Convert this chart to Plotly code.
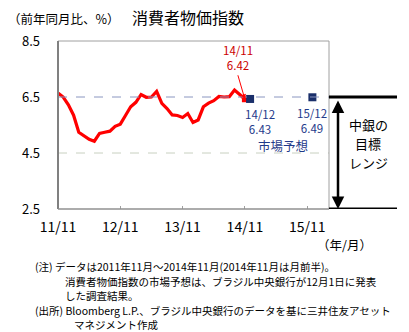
import plotly.graph_objects as go

# Data: Brazil CPI (IPCA), y/y %, 2011/11 - 2014/11
months = ["11/11","11/12","12/01","12/02","12/03","12/04","12/05","12/06","12/07","12/08","12/09","12/10","12/11","12/12",
          "13/01","13/02","13/03","13/04","13/05","13/06","13/07","13/08","13/09","13/10","13/11","13/12",
          "14/01","14/02","14/03","14/04","14/05","14/06","14/07","14/08","14/09","14/10","14/11"]
cpi = [6.64, 6.50, 6.22, 5.85, 5.24, 5.10, 4.99, 4.92, 5.20, 5.24, 5.28, 5.45, 5.53, 5.84,
       6.15, 6.31, 6.59, 6.49, 6.50, 6.70, 6.27, 6.09, 5.86, 5.84, 5.77, 5.91,
       5.59, 5.68, 6.15, 6.28, 6.37, 6.52, 6.50, 6.51, 6.75, 6.59, 6.42]
fc_labels = ["14/12", "15/12"]
fc_idx = [37, 49]
fc_values = [6.43, 6.49]
xtick_vals = [0, 12, 24, 36, 48]
xtick_text = ["11/11", "12/11", "13/11", "14/11", "15/11"]
ytick_vals = [2.5, 4.5, 6.5, 8.5]
target_low, target_high = 2.5, 6.5

W, H = 409, 332
L, R, T, B = 58, 329, 41, 209
def px(x): return (x - L) / (R - L)
def py(y): return (B - y) / (B - T)

FONT = "Noto Sans CJK JP"
NAVY = "#1f3a8a"

x_idx = list(range(len(cpi)))
fig = go.Figure()
fig.add_trace(go.Scatter(x=x_idx, y=cpi, mode="lines", line=dict(color="#ff0000", width=3.2),
                         hoverinfo="skip", showlegend=False))
fig.add_trace(go.Scatter(x=[x_idx[-1]], y=[cpi[-1]], mode="markers",
                         marker=dict(color="#ff0000", size=6, symbol="square"), showlegend=False))
fig.add_trace(go.Scatter(x=fc_idx, y=fc_values, mode="markers",
                         marker=dict(color="#1a2f6a", size=8, symbol="square"), showlegend=False))

shapes = [
    dict(type="line", xref="paper", yref="y", x0=0, x1=1, y0=6.5, y1=6.5,
         line=dict(color="#8a96c0", width=1, dash="dash")),
    dict(type="line", xref="paper", yref="y", x0=0, x1=1, y0=4.5, y1=4.5,
         line=dict(color="#c8d0c0", width=1, dash="dash")),
    dict(type="line", xref="paper", yref="paper", x0=0, x1=1, y0=1, y1=1, line=dict(color="#a0a0a0", width=1)),
    dict(type="line", xref="paper", yref="paper", x0=1, x1=1, y0=0, y1=1, line=dict(color="#a0a0a0", width=1)),
    dict(type="line", xref="paper", yref="paper", x0=0, x1=0, y0=0, y1=1, line=dict(color="#808080", width=2)),
    dict(type="line", xref="paper", yref="paper", x0=0, x1=1, y0=0, y1=0, line=dict(color="#909090", width=1.5)),
    dict(type="line", xref="paper", yref="y", x0=1, x1=px(397), y0=target_high, y1=target_high,
         line=dict(color="black", width=3)),
    dict(type="line", xref="paper", yref="y", x0=1, x1=px(397), y0=target_low, y1=target_low,
         line=dict(color="black", width=3)),
]

ann = []
def text_at(x, y, t, size, color="black", xanchor="center"):
    ann.append(dict(xref="paper", yref="paper", x=px(x), y=py(y), xanchor=xanchor, yanchor="middle",
                    text=t, showarrow=False, font=dict(size=size, color=color, family=FONT)))

# double arrow for target range
ann.append(dict(xref="paper", yref="y", x=px(338), y=target_low, ax=0, ay=-(B - T) * (target_high - target_low) / 6.0 + 2,
                text="", showarrow=True, arrowhead=2, startarrowhead=2, arrowside="end+start",
                arrowwidth=2.5, arrowsize=1, arrowcolor="black"))
text_at(368, 124, "中銀の", 13)
text_at(368, 143, "目標", 13)
text_at(368, 162, "レンジ", 13)
# red annotation
ann.append(dict(x=x_idx[-1], y=cpi[-1], ax=-7, ay=-24, text="14/11<br>6.42", showarrow=True,
                arrowhead=2, arrowsize=1, arrowwidth=1, arrowcolor="#ff0000", xanchor="center", yanchor="bottom",
                font=dict(size=11.5, color="#cc0000", family=FONT)))
# forecast labels
for lbl, xi, v in zip(fc_labels, fc_idx, fc_values):
    ann.append(dict(x=xi, y=v, xref="x", yref="y", yshift=-23, text=f"{lbl}<br>{v:.2f}", showarrow=False,
                    xanchor="center", yanchor="middle", xshift=10 if xi == 37 else 0,
                    font=dict(size=11.5, color=NAVY, family=FONT)))
text_at(283, 145, "市場予想", 12.5, NAVY)
# title and axis labels
text_at(188, 17, "消費者物価指数", 16)
text_at(6, 18, "（前年同月比、%）", 12.5, xanchor="left")
text_at(344, 244, "（年/月）", 12.5)
# footnotes
notes = [
    (33, 266, "(注) データは2011年11月～2014年11月(2014年11月は月前半)。"),
    (63, 281, "消費者物価指数の市場予想は、ブラジル中央銀行が12月1日に発表"),
    (63, 295, "した調査結果。"),
    (33, 310, "(出所) Bloomberg L.P.、ブラジル中央銀行のデータを基に三井住友アセット"),
    (72, 324, "マネジメント作成"),
]
for x, y, t in notes:
    text_at(x, y, t, 10.5, xanchor="left")

fig.update_layout(
    width=W, height=H, margin=dict(l=L, r=W - R, t=T, b=H - B),
    paper_bgcolor="white", plot_bgcolor="white",
    xaxis=dict(range=[0, 52.2], tickvals=xtick_vals, ticktext=xtick_text, showgrid=False, zeroline=False,
               ticks="inside", ticklen=3, tickcolor="#a0a0a0", showline=False, ticklabelstandoff=8,
               tickfont=dict(size=14, color="black", family=FONT)),
    yaxis=dict(range=[2.5, 8.5], tickvals=ytick_vals, ticktext=[f"{v:.1f}" for v in ytick_vals],
               showgrid=False, zeroline=False, showline=False, ticks="", ticklabelstandoff=17,
               tickfont=dict(size=13, color="black", family=FONT)),
    shapes=shapes, annotations=ann, showlegend=False,
)
fig.write_html("out.html")
